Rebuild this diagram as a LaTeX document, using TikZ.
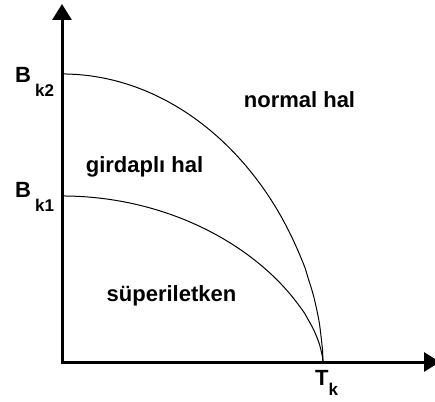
\documentclass[tikz,border=0pt]{standalone}
\usepackage{fontspec}
\setmainfont{Liberation Sans}
\usetikzlibrary{arrows.meta}
\newcommand\lowsub[4]{#1\kern#2\raisebox{#3}{\fontsize{17}{17}\selectfont #4}}

\begin{document}
\begin{tikzpicture}[x=1pt,y=1pt,>={Triangle[width=19pt,length=16pt]},every node/.style={font=\fontsize{22}{26}\bfseries\selectfont,inner sep=0pt}]
\useasboundingbox (-62,-39) rectangle (373,362);
\coordinate (o) at (0,0);
\coordinate (ytop) at (0,358);
\coordinate (xend) at (378,0);
\coordinate (bk2) at (0,288);
\coordinate (bk1) at (0,166);
\coordinate (tc) at (261,0);
% axes
\draw[line width=3pt,line join=miter,<->] (ytop) -- (o) -- (xend);
% phase boundaries
\draw[line width=1pt] (bk2) -- plot[domain=0:0.999,samples=90,smooth] ({261*\x},{288*(1-\x*\x)^0.56}) -- (tc);
\draw[line width=1pt] (bk1) -- plot[domain=0:0.999,samples=90,smooth] ({261*\x},{166*(1-\x*\x)^0.62}) -- (tc);
% labels
\node[anchor=base west] (bktwo) at (-47,279) {\lowsub{B}{4pt}{-14pt}{k2}};
\node[anchor=base west] (bkone) at (-47,164) {\lowsub{B}{4pt}{-14pt}{k1}};
\node[anchor=base west] (tk) at (253,-23) {\lowsub{T}{0pt}{-10pt}{k}};
\node[anchor=base] (normal) at (237.5,254) {normal hal};
\node[anchor=base] (girdapli) at (82.5,189) {girdaplı hal};
\node[anchor=base] (super) at (109.5,61) {süperiletken};
\end{tikzpicture}
\end{document}
